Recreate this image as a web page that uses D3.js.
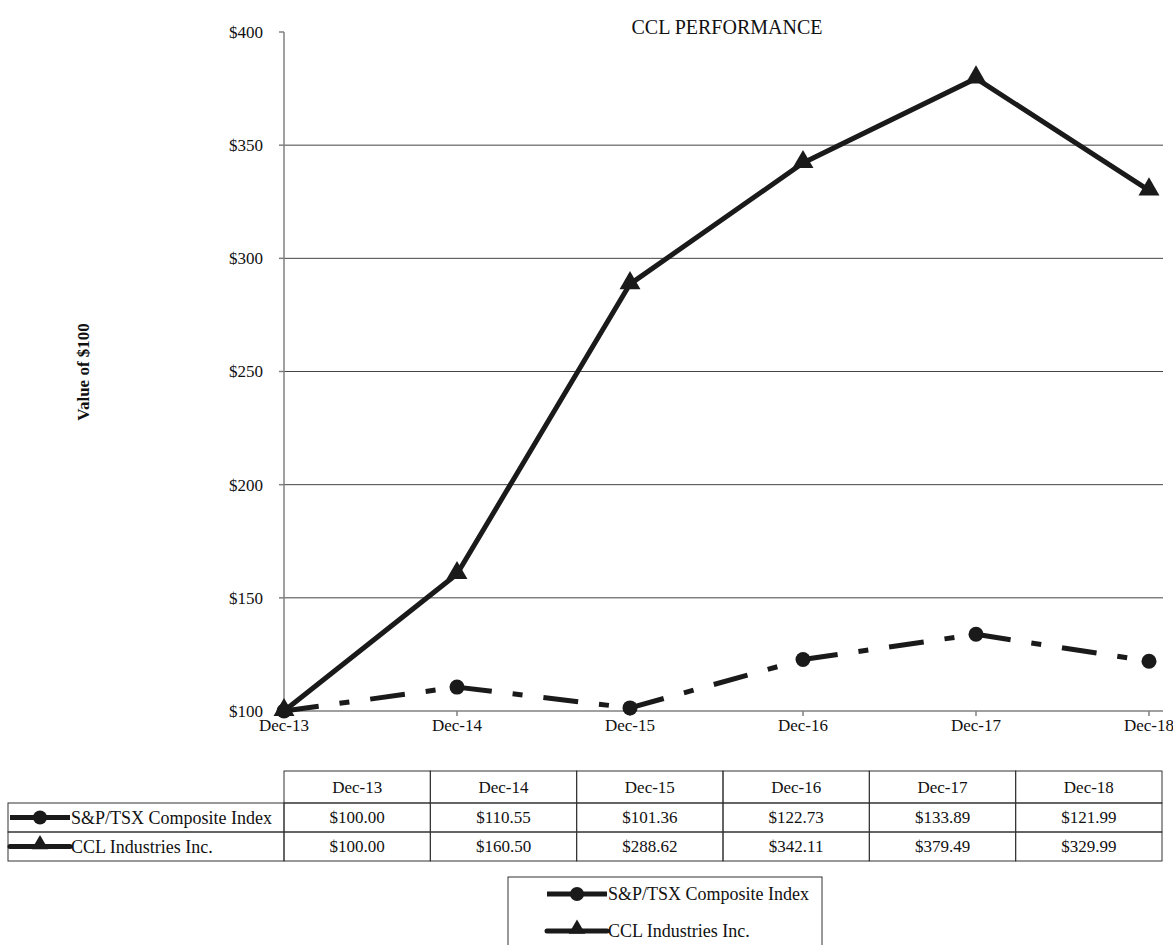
<!DOCTYPE html>
<html lang="en">
<head>
    <meta charset="UTF-8">
    <title>CCL Performance</title>
    <script src="https://d3js.org/d3.v7.min.js"></script>
    <style>
        body {
            margin: 0;
            background: #fff;
        }

        svg text {
            font-family: 'Liberation Serif', 'Times New Roman', Times, serif;
            fill: #111;
        }

        .grid line {
            stroke: #444;
            stroke-width: 1px;
        }

        .axis-line {
            stroke: #808080;
            stroke-width: 1.5px;
        }

        .cell {
            fill: none;
            stroke: #333;
            stroke-width: 1px;
        }
    </style>
</head>
<body>
<script>
    // 数据
    const periods = ["Dec-13", "Dec-14", "Dec-15", "Dec-16", "Dec-17", "Dec-18"];
    const tsxValues = [100.00, 110.55, 101.36, 122.73, 133.89, 121.99];
    const cclValues = [100.00, 160.50, 288.62, 342.11, 379.49, 329.99];
    const seriesNames = ["S&P/TSX Composite Index", "CCL Industries Inc."];
    const yTicks = [100, 150, 200, 250, 300, 350, 400];

    const width = 1173;
    const height = 945;
    const fs = "17px";
    const labelFs = "18px";

    const svg = d3.select("body").append("svg")
        .attr("width", width)
        .attr("height", height)
        .attr("font-family", "'Liberation Serif', serif");

    // 比例尺
    const x = d3.scalePoint().domain(periods).range([284, 1149]);
    const y = d3.scaleLinear().domain([100, 400]).range([711, 32]);
    const axisRight = 1163;
    const money = d3.format("$.2f");

    // 标题
    svg.append("text")
        .attr("x", 727).attr("y", 34)
        .attr("text-anchor", "middle")
        .style("font-size", "20px")
        .text("CCL PERFORMANCE");

    svg.append("text")
        .attr("transform", "translate(89,372) rotate(-90)")
        .attr("text-anchor", "middle")
        .style("font-size", "17px")
        .style("font-weight", "bold")
        .text("Value of $100");

    // 网格线
    svg.append("g").attr("class", "grid")
        .selectAll("line")
        .data(yTicks.filter(d => d > 100 && d < 400))
        .enter().append("line")
        .attr("x1", x(periods[0])).attr("x2", axisRight)
        .attr("y1", d => y(d)).attr("y2", d => y(d));

    // y轴
    const yAxis = svg.append("g");
    yAxis.append("line").attr("class", "axis-line")
        .attr("x1", 284).attr("x2", 284)
        .attr("y1", y(400)).attr("y2", y(100));
    yAxis.selectAll("line.tick")
        .data(yTicks)
        .enter().append("line")
        .attr("class", "tick axis-line")
        .attr("x1", 279).attr("x2", 284)
        .attr("y1", d => y(d)).attr("y2", d => y(d));
    yAxis.selectAll("text")
        .data(yTicks)
        .enter().append("text")
        .attr("x", 263).attr("y", d => y(d))
        .attr("dy", "0.35em")
        .attr("text-anchor", "end")
        .style("font-size", fs)
        .text(d => "$" + d);

    // x轴
    const xAxis = svg.append("g");
    xAxis.append("line").attr("class", "axis-line")
        .attr("x1", 284).attr("x2", axisRight)
        .attr("y1", y(100)).attr("y2", y(100));
    xAxis.selectAll("line.tick")
        .data(periods)
        .enter().append("line")
        .attr("class", "tick axis-line")
        .attr("x1", d => x(d)).attr("x2", d => x(d))
        .attr("y1", y(100)).attr("y2", y(100) + 5);
    xAxis.selectAll("text")
        .data(periods)
        .enter().append("text")
        .attr("x", d => x(d)).attr("y", 731)
        .attr("text-anchor", "middle")
        .style("font-size", fs)
        .text(d => d);

    const triangle = d3.symbol().type(d3.symbolTriangle).size(190);

    // S&P/TSX 虚线（每段重新开始）
    const tsxPts = periods.map((p, i) => [x(p), y(tsxValues[i])]);
    svg.append("g").selectAll("line")
        .data(d3.pairs(tsxPts))
        .enter().append("line")
        .attr("x1", d => d[0][0]).attr("y1", d => d[0][1])
        .attr("x2", d => d[1][0]).attr("y2", d => d[1][1])
        .attr("stroke", "#1a1a1a")
        .attr("stroke-width", 5)
        .attr("stroke-dasharray", "35,21,10,21");

    // CCL 实线
    const cclPts = periods.map((p, i) => [x(p), y(cclValues[i])]);
    svg.append("path")
        .attr("d", d3.line()(cclPts))
        .attr("fill", "none")
        .attr("stroke", "#1a1a1a")
        .attr("stroke-width", 5)
        .attr("stroke-linejoin", "miter");

    svg.append("g").selectAll("circle")
        .data(tsxPts)
        .enter().append("circle")
        .attr("cx", d => d[0]).attr("cy", d => d[1])
        .attr("r", 7.5)
        .attr("fill", "#1a1a1a");

    svg.append("g").selectAll("path")
        .data(cclPts)
        .enter().append("path")
        .attr("d", triangle)
        .attr("transform", d => `translate(${d[0]},${d[1] - 1})`)
        .attr("fill", "#1a1a1a");

    // 图例符号
    function legendKey(g, cx, cy, i) {
        g.append("line")
            .attr("x1", cx - 30).attr("x2", cx + 30)
            .attr("y1", cy).attr("y2", cy)
            .attr("stroke", "#1a1a1a")
            .attr("stroke-width", 5)
            .attr("stroke-linecap", i === 0 ? "butt" : "round");
        if (i === 0) {
            g.append("circle").attr("cx", cx).attr("cy", cy).attr("r", 7).attr("fill", "#1a1a1a");
        } else {
            g.append("path").attr("d", d3.symbol().type(d3.symbolTriangle).size(120))
                .attr("transform", `translate(${cx},${cy - 2})`)
                .attr("fill", "#1a1a1a");
        }
    }

    // 数据表
    const table = svg.append("g");
    const colX = d3.scaleBand().domain(periods).range([284, 1162]);
    const headerTop = 771, headerH = 32, rowH = 29;

    table.selectAll("rect.head")
        .data(periods)
        .enter().append("rect")
        .attr("class", "cell head")
        .attr("x", d => colX(d)).attr("y", headerTop)
        .attr("width", colX.bandwidth()).attr("height", headerH);
    table.selectAll("text.head")
        .data(periods)
        .enter().append("text")
        .attr("class", "head")
        .attr("x", d => colX(d) + colX.bandwidth() / 2)
        .attr("y", headerTop + headerH / 2)
        .attr("dy", "0.35em")
        .attr("text-anchor", "middle")
        .style("font-size", fs)
        .text(d => d);

    [tsxValues, cclValues].forEach((vals, i) => {
        const top = headerTop + headerH + i * rowH;
        const row = table.append("g");
        row.append("rect").attr("class", "cell")
            .attr("x", 8).attr("y", top)
            .attr("width", 276).attr("height", rowH);
        legendKey(row, 40, top + rowH / 2, i);
        row.append("text")
            .attr("x", 71).attr("y", top + rowH / 2)
            .attr("dy", "0.35em")
            .style("font-size", labelFs)
            .text(seriesNames[i]);
        row.selectAll("rect.v")
            .data(periods)
            .enter().append("rect")
            .attr("class", "cell v")
            .attr("x", d => colX(d)).attr("y", top)
            .attr("width", colX.bandwidth()).attr("height", rowH);
        row.selectAll("text.v")
            .data(vals)
            .enter().append("text")
            .attr("class", "v")
            .attr("x", (d, j) => colX(periods[j]) + colX.bandwidth() / 2)
            .attr("y", top + rowH / 2)
            .attr("dy", "0.35em")
            .attr("text-anchor", "middle")
            .style("font-size", fs)
            .text(d => money(d));
    });

    // 下方图例
    const legend = svg.append("g");
    legend.append("rect").attr("class", "cell")
        .attr("x", 508).attr("y", 877)
        .attr("width", 314).attr("height", 80);
    seriesNames.forEach((name, i) => {
        const cy = 894 + i * 37;
        legendKey(legend, 577, cy, i);
        legend.append("text")
            .attr("x", 608).attr("y", cy)
            .attr("dy", "0.35em")
            .style("font-size", labelFs)
            .text(name);
    });
</script>
</body>
</html>
